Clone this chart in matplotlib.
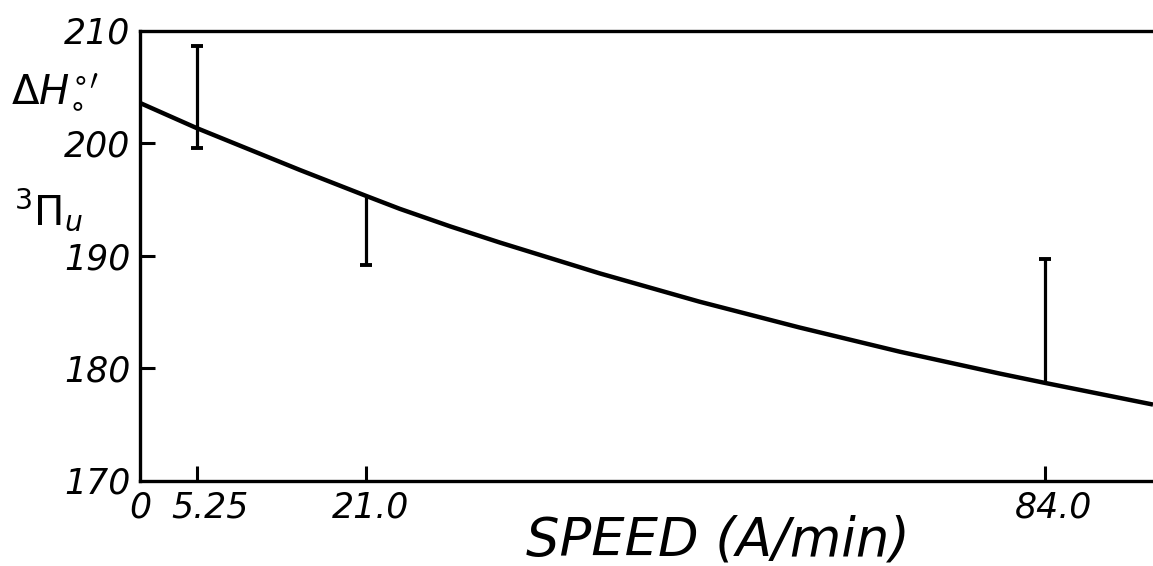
import matplotlib
matplotlib.use("Agg")
import matplotlib.pyplot as plt
from matplotlib.transforms import ScaledTranslation

# Fitted curve of the activation enthalpy against speed
curve_speed = [0.0, 5.25, 14.84, 21.0, 24.1, 28.75, 33.4, 42.7, 51.9, 61.2, 70.5, 79.8, 84.0,
               89.05, 94.0]
curve_dh = [203.56, 201.33, 197.6, 195.29, 194.15, 192.6, 191.15, 188.4, 185.9, 183.6, 181.45,
            179.5, 178.67, 177.7, 176.75]

# Uncertainty bars at the measured speeds
bar_speed = [5.25, 21.0, 84.0]
bar_low = [199.56, 189.16, 178.67]
bar_high = [208.62, 195.2, 189.69]
bar_cap_low = [True, True, False]
bar_cap_high = [True, False, True]

x_ticks = [0, 5.25, 21.0, 84.0]
x_tick_labels = ["0", "5.25", "21.0", "84.0"]
y_ticks = [170, 180, 190, 200, 210]
y_tick_labels = ["170", "180", "190", "200", "210"]

W, H = 1153, 566
fig = plt.figure(figsize=(W / 100, H / 100), dpi=100)
ax = fig.add_axes([140 / W, 1 - 480.5 / H, 1 - 140 / W, 450 / H])

FONT = dict(family="DejaVu Sans", style="oblique", weight="light")

ax.plot(curve_speed, curve_dh, color="black", lw=3.2, solid_joinstyle="round",
        solid_capstyle="butt", zorder=3)

ax.vlines(bar_speed, bar_low, bar_high, colors="black", lw=2.3, zorder=3)
for xs, lo, hi, cl, ch in zip(bar_speed, bar_low, bar_high, bar_cap_low, bar_cap_high):
    if cl:
        ax.plot([xs], [lo], marker="_", ms=8.5, mew=2.8, color="black", zorder=3)
    if ch:
        ax.plot([xs], [hi], marker="_", ms=8.5, mew=2.8, color="black", zorder=3)

ax.set_xlim(0, 94.0)
ax.set_ylim(170, 210)

for side in ("left", "bottom", "top"):
    ax.spines[side].set_linewidth(2.4)
    ax.spines[side].set_color("black")
ax.spines["right"].set_visible(False)

ax.set_xticks(x_ticks)
ax.set_xticklabels(x_tick_labels, **FONT, fontsize=25)
ax.set_yticks(y_ticks)
ax.set_yticklabels(y_tick_labels, **FONT, fontsize=25)
ax.tick_params(axis="both", direction="in", length=11, width=2.2, color="black")
ax.tick_params(axis="x", pad=7)
ax.tick_params(axis="y", pad=7)
# the end ticks sit on the frame corners
for t in ax.yaxis.get_major_ticks():
    if t.get_loc() in (170, 210):
        t.tick1line.set_visible(False)
for t in ax.xaxis.get_major_ticks():
    if t.get_loc() == 0:
        t.tick1line.set_visible(False)

# hand-lettered speed labels sit a little right of their ticks
label_shift_px = {"5.25": 13, "21.0": 4, "84.0": 8}
for lab in ax.get_xticklabels():
    dx = label_shift_px.get(lab.get_text(), 0)
    if dx:
        lab.set_transform(lab.get_transform() + ScaledTranslation(dx / 100, 0, fig.dpi_scale_trans))

fig.text(718 / W, 1 - 556 / H, "SPEED (A/min)", ha="center", va="baseline",
         fontsize=38, **FONT)

plt.rcParams["mathtext.fontset"] = "dejavusans"
fig.text(55 / W, 1 - 90 / H, r"$\Delta H_{\circ}^{\circ\prime}$", ha="center", va="center",
         fontsize=29)
fig.text(48 / W, 1 - 210 / H, r"$^{3}\Pi_{u}$", ha="center", va="center", fontsize=29)

fig.savefig("out.png", dpi=100)
